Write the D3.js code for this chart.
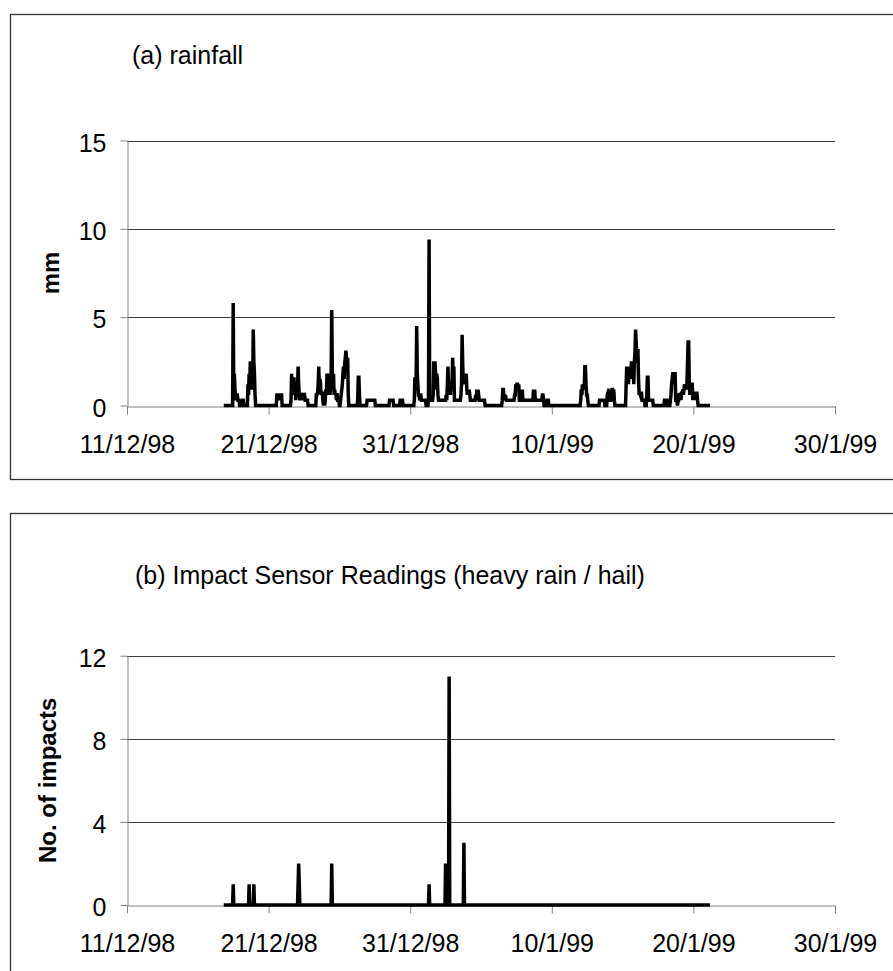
<!DOCTYPE html>
<html>
<head>
<meta charset="utf-8">
<script src="https://cdn.jsdelivr.net/npm/d3@7"></script>
<style>
  body { margin: 0; background: #fff; }
  text { font-family: "Liberation Sans", Arial, sans-serif; }
</style>
</head>
<body>
<div id="chart"></div>
<script>
const WIDTH = 893, HEIGHT = 971;
const X_LEFT = 127, X_RIGHT = 835;
const FONT = 25;

// tick labels
const xTickLabels = ["11/12/98", "21/12/98", "31/12/98", "10/1/99", "20/1/99", "30/1/99"];
const rainTicks = [0, 5, 10, 15];
const impactTicks = [0, 4, 8, 12];

// (a) rainfall, mm: runs of hourly readings [first hour, readings...]
const rainfall = [
  ["17/12/98 20", [0]],
  ["18/12/98 09", [0, 0, 0, 5.8, 0.6, 1.8, 0.9, 0.6, 0.3, 0.6, 0.6, 0.3, 0.3, 0.3, 0, 0, 0, 0.3, 0, 0.3, 0.3, 0]],
  ["19/12/98 12", [0, 1.2, 0.6, 1.8, 1.2, 2.5, 1.5, 1.8, 0.9, 1.2, 4.3, 2.5, 1.8, 0.6, 0]],
  ["21/12/98 13", [0, 0.6, 0.6, 0.3, 0.6, 0.6, 0.3, 0.6, 0.6, 0.6, 0]],
  ["22/12/98 13", [0, 0.3, 1.8, 0.6, 1.2, 0.9, 1.6, 0.6, 1.2, 0.3, 1.0, 0.6, 0.9, 2.2, 1.2, 0.6, 0.3, 0.6, 0.7, 0.3,
                   0.6, 0.7, 0.3, 0.7, 0.6, 0.3, 0.3, 0.3, 0.3, 0.3, 0]],
  ["24/12/98 08", [0, 0.7, 0.6, 0.7, 1.2, 2.2, 0.9, 1.5, 1.2, 0.6, 0.7, 0.7, 0.3, 0, 0.3, 0, 0.3, 0.9, 0.6, 1.8,
                   1.2, 1.8, 0.9, 1.8, 0.6, 1.2, 1.8, 5.4, 1.8, 0.9, 1.8, 0.6, 0.9, 0.6, 0.7, 0.3, 0.7, 0.3, 0.3, 0.3, 0]],
  ["26/12/98 01", [0, 0.3, 0.6, 0.9, 1.2, 1.8, 2.2, 1.5, 2.4, 2.7, 3.1, 2.7, 2.2, 2.7, 0.6, 0]],
  ["27/12/98 06", [0, 0.3, 1.6, 1.6, 0.6, 0]],
  ["27/12/98 22", [0, 0.3, 0.3, 0.3, 0.3, 0.3, 0.3, 0.3, 0.3, 0.3, 0.3, 0.3, 0.3, 0.3, 0.3, 0]],
  ["29/12/98 12", [0, 0.3, 0.3, 0.3, 0.3, 0.3, 0.3, 0.3, 0]],
  ["30/12/98 06", [0, 0.3, 0.3, 0.3, 0.3, 0.3, 0]],
  ["31/12/98 06", [0, 0.3, 1.6, 0.9, 1.2, 4.5, 1.8, 1.2, 0.6, 0.6, 0.3, 0.6, 0.6, 0.3, 0.3, 0.3, 0.3, 0.3, 0.3, 0.3, 0.3, 0]],
  ["01/01/99 06", [0, 0.3, 9.4, 0.6, 0.3, 0.3, 0.3, 0.3, 0.3, 0.6, 2.5, 1.2, 2.5, 1.8, 0.9, 1.8, 1.5, 0.6, 0.3, 0.3,
                   0.3, 0.3, 0.3, 0.3, 0.3, 0.3, 0.3, 0.3, 0.3, 0.3, 0.3, 0.6, 0.3, 1.2, 2.2, 0.9, 1.2, 1.2, 0.6, 1.2,
                   0.9, 1.5, 2.7, 1.2, 2.2, 0.3, 0.3, 0.3, 0.3, 0.3, 0.3, 0.3, 0.3, 0.3, 0.3, 0.3, 0.6, 1.2, 4.0, 2.4,
                   1.2, 1.8, 1.2, 1.8, 1.5, 1.8, 0.9, 0.6, 0.9, 0.6, 0.9, 0.6, 0.3, 0.3, 0.3, 0.3, 0.3, 0.3, 0.3, 0.3,
                   0.3, 0.6, 0.3, 0.9, 0.6, 0.9, 0.6, 0.3, 0.3, 0.3, 0.3, 0.3, 0.3, 0.3, 0.3, 0.3, 0.3, 0]],
  ["06/01/99 11", [0, 0.3, 0.9, 0.9, 0.3, 0.6, 0.5, 0.5, 0.3, 0.3, 0.3, 0.3, 0.3, 0.3, 0.3, 0.3, 0.3, 0.3, 0.3, 0.3,
                   0.3, 0.3, 0.6, 0.6, 1.2, 0.9, 1.2, 1.2, 0.9, 1.2, 0.3, 0.3, 0.3, 0.9, 0.6, 0.9, 0.3, 0.3, 0.3, 0.3,
                   0.3, 0.3, 0.3, 0.3, 0.3, 0.3, 0.3, 0.3, 0.3, 0.3, 0.3, 0.3, 0.3, 0.3, 0.9, 0.6, 0.9, 0.3, 0.3, 0.3,
                   0.3, 0.3, 0.3, 0.3, 0.3, 0.3, 0.3, 0.3, 0.3, 0.6, 0.6, 0.3, 0, 0, 0, 0, 0, 0.3, 0.3, 0.3, 0]],
  ["12/01/99 00", [0, 0.3, 0.9, 0.6, 1.2, 0.9, 1.2, 0.9, 2.2, 2.2, 1.2, 0.6, 0.6, 0.3, 0]],
  ["13/01/99 08", [0, 0.3, 0.3, 0.3, 0.3, 0.3, 0.3, 0.3, 0.3, 0.3, 0, 0, 0, 0, 0.6, 0.7, 0.6, 0.7, 0.6, 0.3,
                   0.3, 0.6, 0.9, 0.9, 0.6, 0.9, 0.3, 0]],
  ["15/01/99 04", [0, 0, 1.2, 2.2, 1.5, 2.2, 1.2, 2.2, 1.8, 2.2, 1.5, 2.5, 1.8, 2.5, 2.2, 1.2, 2.5, 3.0, 4.3, 3.6,
                   2.4, 3.1, 3.1, 1.5, 0.7, 0.7, 0.6, 0.7, 0.7, 0.3, 0.3, 0.3, 0.3, 0.3, 0, 0, 0, 0.6, 1.6, 1.6,
                   0.3, 0.3, 0.3, 0.3, 0.3, 0.3, 0.3, 0.3, 0]],
  ["17/01/99 21", [0, 0, 0.3, 0.3, 0.3, 0.3, 0.3, 0, 0, 0, 0, 0, 0.3, 0.6, 1.2, 1.5, 1.8, 1.8, 1.2, 1.8,
                   1.8, 0.3, 0.3, 0.3, 0, 0.3, 0.3, 0.7, 0.6, 0.7, 0.3, 0.7, 0.7, 0.9, 0.6, 0.9, 1.2, 0.9, 1.2, 0.9,
                   1.2, 2.4, 3.6, 3.6, 1.2, 0.6, 1.2, 0.9, 1.2, 1.2, 0.3, 0.7, 0.3, 0.7, 0.7, 0.3, 0.7, 0.7, 0.3, 0]],
  ["21/01/99 04", [0]]
];

// (b) impact sensor readings, no. of impacts: runs of hourly readings
const impacts = [
  ["17/12/98 20", [0]],
  ["18/12/98 11", [0, 1, 0]],
  ["19/12/98 14", [0, 1, 0]],
  ["19/12/98 22", [0, 1, 0]],
  ["23/12/98 01", [0, 1, 2, 1, 0]],
  ["25/12/98 10", [0, 2, 0]],
  ["01/01/99 07", [0, 1, 0]],
  ["02/01/99 11", [0, 2, 0]],
  ["02/01/99 17", [0, 11, 0]],
  ["03/01/99 18", [0, 3, 0]],
  ["21/01/99 04", [0]]
];

const parseTime = d3.utcParse("%d/%m/%y %H");
const parseTick = d3.utcParse("%d/%m/%y");
const tickDates = xTickLabels.map(parseTick);

// expand runs into [date, value] points, one per hour
const Expand = runs => runs.flatMap(([start, vals]) =>
    vals.map((v, i) => ({ t: d3.utcHour.offset(parseTime(start), i), v })));

const svg = d3.select("#chart")
    .append("svg")
    .attr("width", WIDTH)
    .attr("height", HEIGHT);

const x = d3.scaleUtc()
    .domain([tickDates[0], tickDates[tickDates.length - 1]])
    .range([X_LEFT, X_RIGHT]);

function DrawPanel(cfg) {
    // outer frame
    svg.append("rect")
        .attr("x", 10.5).attr("y", cfg.boxTop)
        .attr("width", 1000).attr("height", cfg.boxHeight)
        .attr("fill", "none").attr("stroke", "#333").attr("stroke-width", 1.3);

    const y = d3.scaleLinear()
        .domain([0, d3.max(cfg.ticks)])
        .range([cfg.y0, cfg.yTop]);

    // gridlines
    svg.append("g").selectAll("line")
        .data(cfg.ticks.filter(t => t > 0))
        .join("line")
        .attr("x1", X_LEFT).attr("x2", X_RIGHT)
        .attr("y1", d => Math.round(y(d)) + 0.5).attr("y2", d => Math.round(y(d)) + 0.5)
        .attr("stroke", "#3a3a3a").attr("stroke-width", 1);

    const yAxis = svg.append("g")
        .attr("transform", `translate(${X_LEFT + 0.5},0)`)
        .call(d3.axisLeft(y).tickValues(cfg.ticks).tickSize(7).tickSizeOuter(0).tickPadding(14));
    yAxis.selectAll("text").attr("dy", "0.42em");

    const xAxis = svg.append("g")
        .attr("transform", `translate(0,${Math.round(cfg.y0) + 0.5})`)
        .call(d3.axisBottom(x).tickValues(tickDates).tickFormat((d, i) => xTickLabels[i])
            .tickSize(8).tickSizeOuter(0).tickPadding(21));

    [yAxis, xAxis].forEach(ax => {
        ax.select(".domain").attr("stroke", "#808080");
        ax.selectAll(".tick line").attr("stroke", "#808080");
        ax.selectAll("text")
            .attr("fill", "#000")
            .style("font-size", FONT + "px")
            .style("font-family", "'Liberation Sans', Arial, sans-serif");
    });

    const line = d3.line()
        .x(d => x(d.t))
        .y(d => y(d.v));

    svg.append("path")
        .datum(Expand(cfg.data))
        .attr("d", line)
        .attr("fill", "none")
        .attr("stroke", "#000")
        .attr("stroke-width", 3.5);

    svg.append("text")
        .attr("x", cfg.titleX).attr("y", cfg.titleY)
        .style("font-size", FONT + "px")
        .text(cfg.title);

    svg.append("text")
        .attr("transform", `translate(${cfg.labelX},${(cfg.y0 + cfg.yTop) / 2}) rotate(-90)`)
        .attr("text-anchor", "middle")
        .style("font-size", "24px")
        .style("font-weight", "bold")
        .text(cfg.label);
}

DrawPanel({
    boxTop: 14.5, boxHeight: 465,
    y0: 405.5, yTop: 140.5,
    ticks: rainTicks, data: rainfall,
    title: "(a) rainfall", titleX: 132, titleY: 64,
    label: "mm", labelX: 59
});

DrawPanel({
    boxTop: 513.5, boxHeight: 600,
    y0: 905, yTop: 655.7,
    ticks: impactTicks, data: impacts,
    title: "(b) Impact Sensor Readings (heavy rain / hail)", titleX: 135, titleY: 584,
    label: "No. of impacts", labelX: 56
});
</script>
</body>
</html>
